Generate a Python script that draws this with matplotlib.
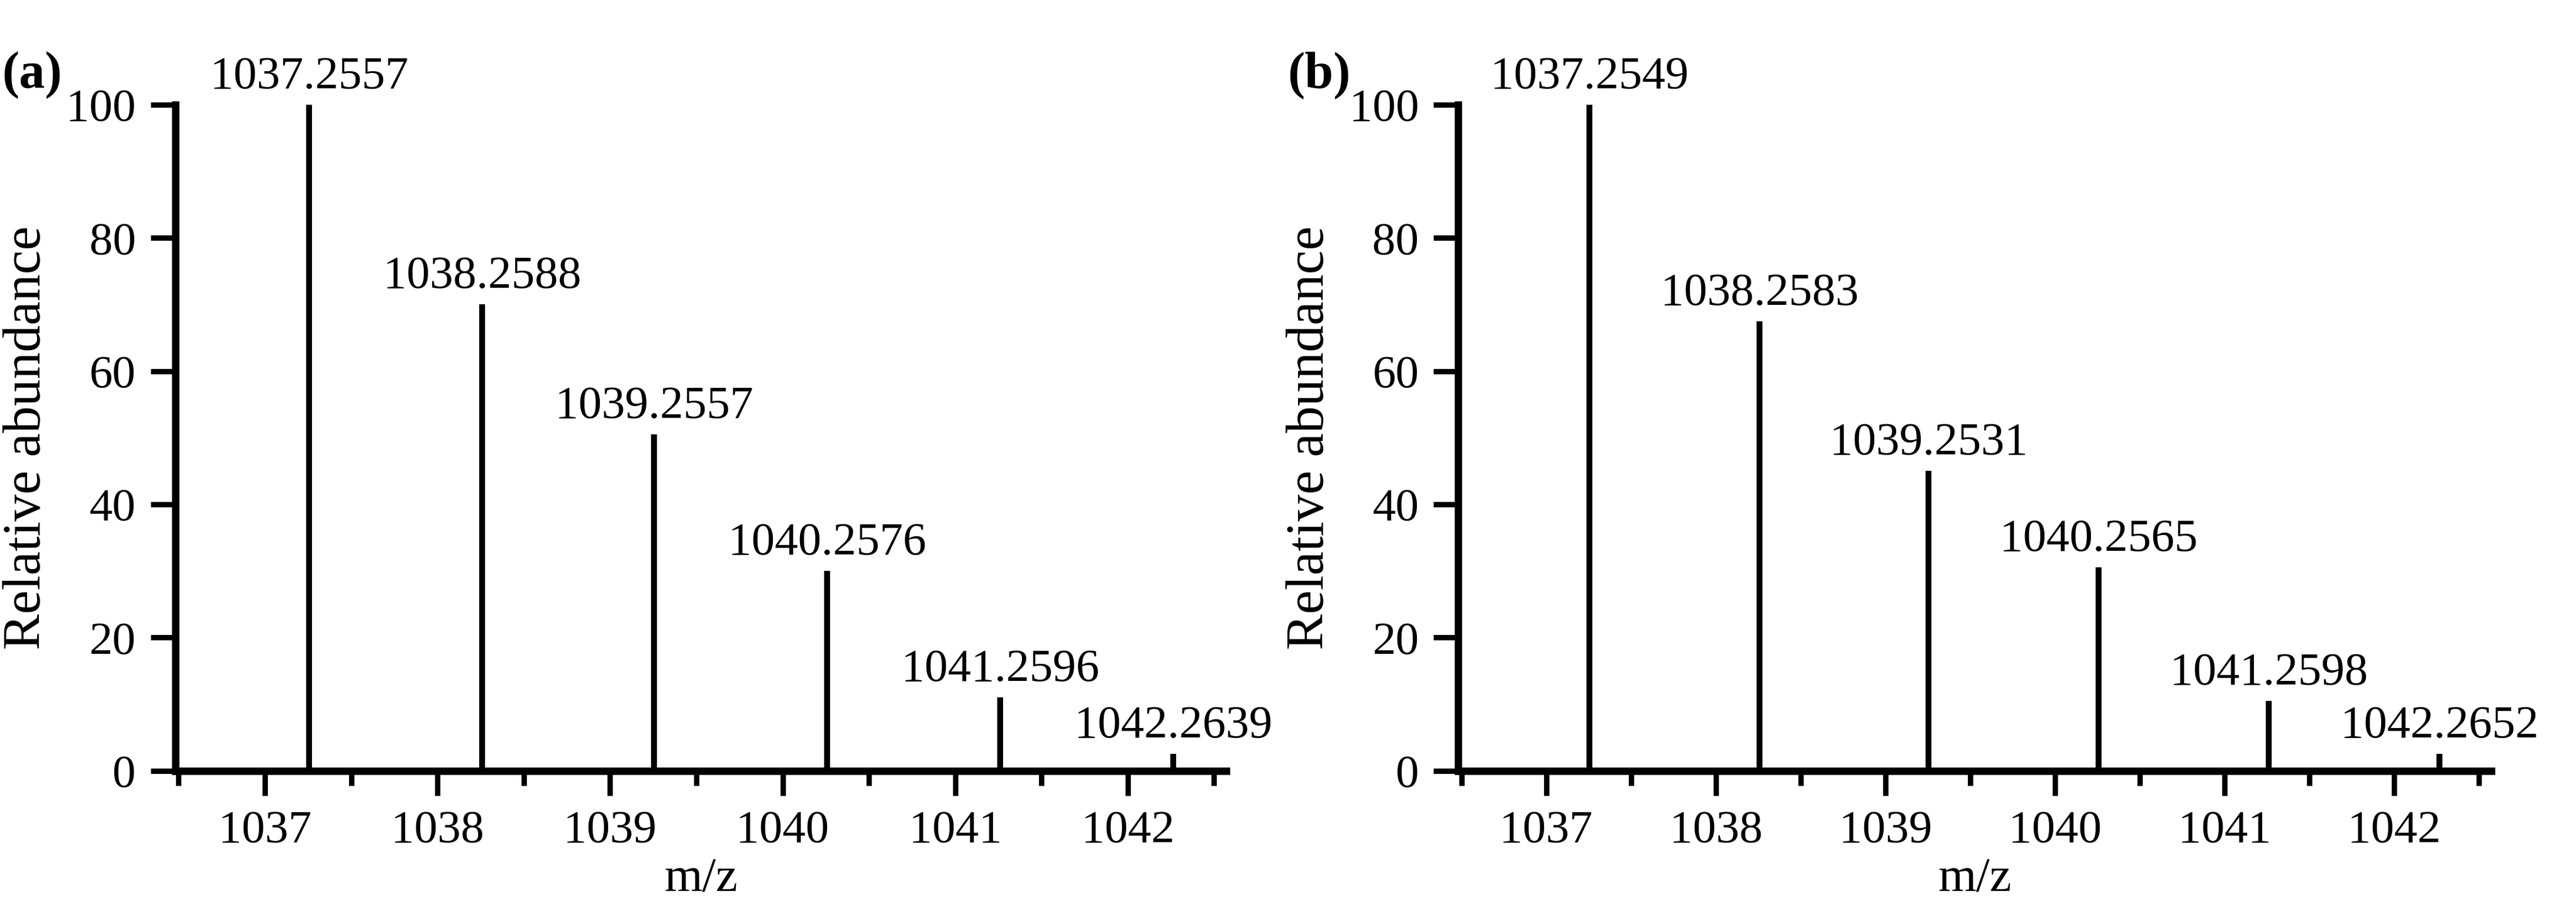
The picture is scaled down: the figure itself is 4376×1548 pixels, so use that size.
import matplotlib.pyplot as plt
from matplotlib.ticker import MultipleLocator

plt.rcParams['font.family'] = ['Liberation Serif', 'DejaVu Serif']

mz_a = [1037.2557, 1038.2588, 1039.2557, 1040.2576, 1041.2596, 1042.2639]
ab_a = [100, 70, 50.5, 30, 11, 2.5]
mz_b = [1037.2549, 1038.2583, 1039.2531, 1040.2565, 1041.2598, 1042.2652]
ab_b = [100, 67.5, 45, 30.5, 10.5, 2.5]
panels = ["(a)", "(b)"]

fig = plt.figure(figsize=(4376 / 300, 1548 / 300), dpi=300)
boxes = [[0.068, 0.154, 0.408, 0.731], [0.566, 0.154, 0.401, 0.731]]

for box, mz, ab, tag in zip(boxes, [mz_a, mz_b], [ab_a, ab_b], panels):
    ax = fig.add_axes(box)
    ax.vlines(mz, 0, ab, color="black", lw=2.4)
    for x, y in zip(mz, ab):
        ax.text(x, y + 1.0, f"{x:.4f}", ha="center", va="bottom", fontsize=19)
    ax.set_xlim(1036.48, 1042.57)
    ax.set_ylim(0, 100)
    ax.xaxis.set_major_locator(MultipleLocator(1))
    ax.xaxis.set_minor_locator(MultipleLocator(0.5))
    ax.yaxis.set_major_locator(MultipleLocator(20))
    for s in ["top", "right"]:
        ax.spines[s].set_visible(False)
    for s in ["left", "bottom"]:
        ax.spines[s].set_linewidth(3)
    ax.tick_params(which="major", direction="out", length=10, width=2.2,
                   labelsize=19, pad=6)
    ax.tick_params(axis="x", which="minor", direction="out", length=6, width=2.2)
    ax.set_xlabel("m/z", fontsize=20, labelpad=2)
    ax.set_ylabel("Relative abundance", fontsize=22, labelpad=6)
    ax.text(-0.165, 1.08, tag, transform=ax.transAxes, fontsize=21,
            fontweight="bold", ha="left", va="top")

fig.savefig("out.png", dpi=300)
